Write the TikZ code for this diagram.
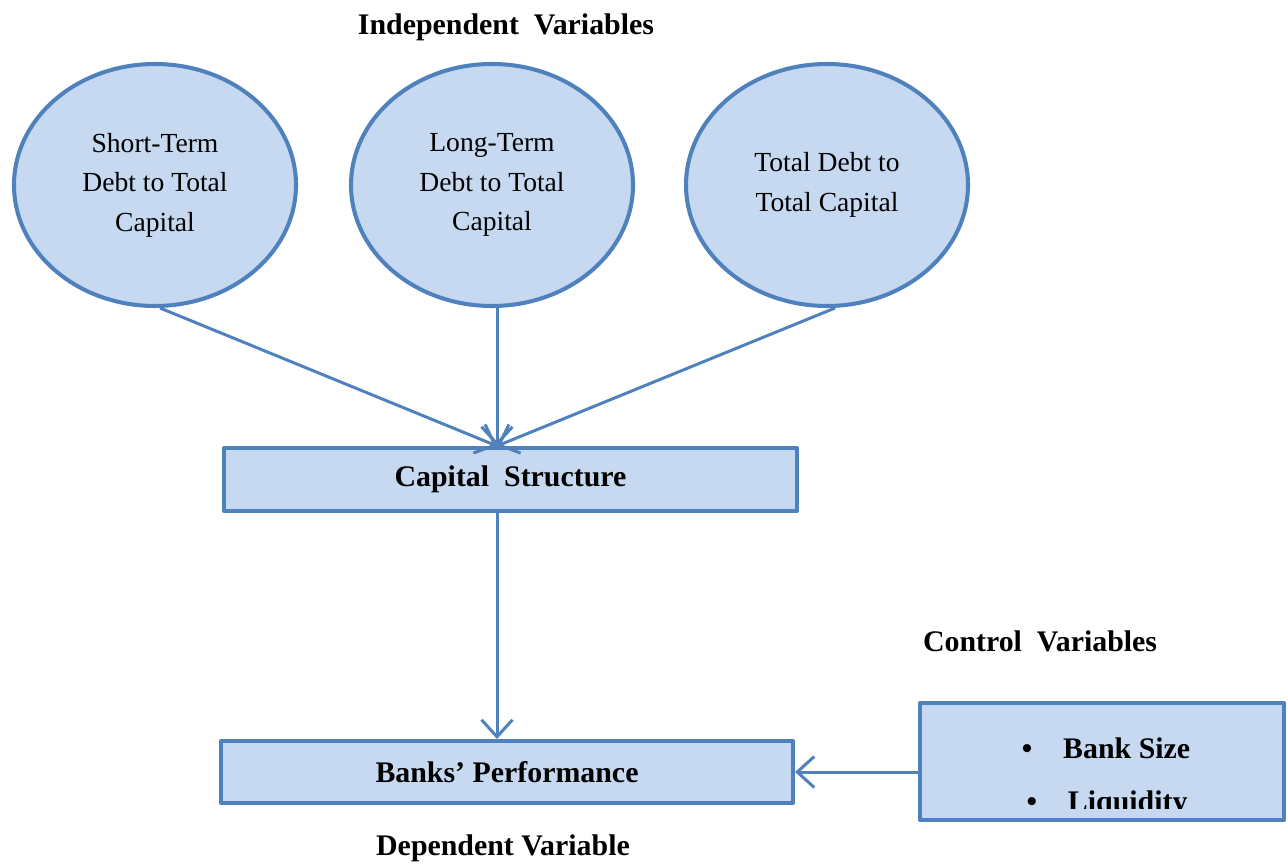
\documentclass[tikz,border=0pt]{standalone}
\usepackage{fontspec}
\setmainfont{Liberation Serif}
\usetikzlibrary{arrows.meta,shapes.geometric,calc}
\definecolor{boxfill}{HTML}{C6D9F1}
\definecolor{boxline}{HTML}{4F81BD}
\begin{document}
\begin{tikzpicture}[line join=round,>={Straight Barb[length=0.34cm,width=0.62cm]}]
		\tikzset{var/.style={ellipse,draw=boxline,fill=boxfill,line width=2.3pt,minimum width=5.64cm,minimum height=4.84cm,align=center,inner sep=0pt,font=\fontsize{15.7}{22.5}\selectfont},
			box/.style={rectangle,draw=boxline,fill=boxfill,line width=2.3pt,font=\fontsize{17}{20}\selectfont\bfseries},
			head/.style={font=\fontsize{17}{20}\selectfont\bfseries},
			link/.style={->,draw=boxline,line width=1.7pt}}
		\useasboundingbox (0,0) rectangle (25.76,17.28);
		\node[head] (iv) at (10.12,16.74) {Independent\ \ Variables};
		\node[var] (st) at (3.10,13.58) {Short-Term\\Debt to Total\\Capital};
		\node[var] (lt) at (9.84,13.58) {Long-Term\\Debt to Total\\Capital};
		\node[var] (td) at (16.54,13.58) {Total Debt to\\Total Capital};
		\node[box,minimum width=11.46cm,minimum height=1.26cm] (cs) at (10.21,7.69) {Capital\ \ Structure};
		\node[box,minimum width=11.44cm,minimum height=1.24cm] (bp) at (10.14,1.84) {Banks' Performance};
		\node[head] (dv) at (10.06,0.32) {Dependent Variable};
		\node[head] (cvt) at (20.80,4.46) {Control\ \ Variables};
		\node[box,minimum width=7.2cm,minimum height=2.26cm,draw=none] (cv) at (22.04,2.05) {};
		\begin{scope}
		\clip ($(cv.south west)+(0,0.24)$) rectangle (cv.north east);
		\node[head] (bs) at (22.12,2.32) {\textbullet\hspace{0.62cm}Bank Size};
		\node[head] (lq) at (22.14,1.20) {\textbullet\hspace{0.62cm}Liquidity};
		\end{scope}
		\draw[boxline,line width=2.3pt] (cv.south west) rectangle (cv.north east);
		\coordinate (in) at ([xshift=0.1cm]cs.north -| lt.south);
		\draw[link] ([xshift=0.1cm]st.south) -- (in);
		\draw[link] ([xshift=0.1cm]lt.south) -- (in);
		\draw[link] ([xshift=0.16cm]td.south) -- (in);
		\draw[link] (cs.south -| in) -- (bp.north -| in);
		\draw[link] (bp.east -| cv.west) -- (bp.east);
\end{tikzpicture}
\end{document}
